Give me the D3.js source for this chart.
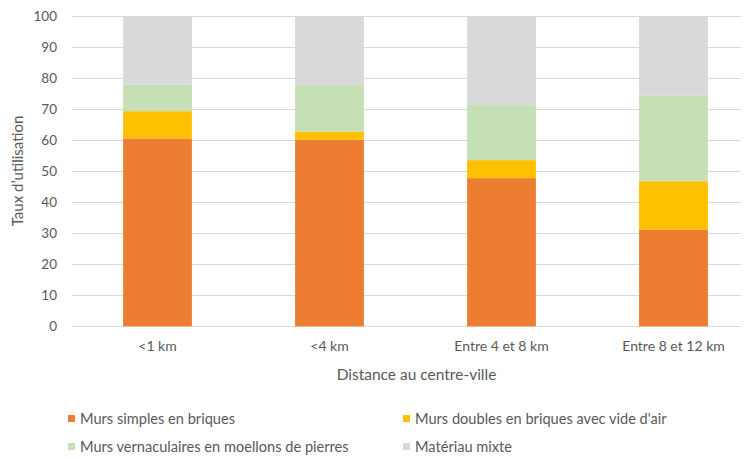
<!DOCTYPE html>
<html>
<head>
<meta charset="utf-8">
<script src="https://cdn.jsdelivr.net/npm/d3@7"></script>
<style>
  html, body { margin: 0; padding: 0; background: #fff; }
  svg { display: block; font-family: Lato, "Open Sans", sans-serif; }
</style>
</head>
<body>
<svg id="chart" width="749" height="459"></svg>
<script>
// Distance bands from the city centre
const categories = ["<1 km", "<4 km", "Entre 4 et 8 km", "Entre 8 et 12 km"];

// Share of each wall type (%) per distance band
const simplesBriques   = [60.6, 60.2, 47.8, 31.2];
const doublesBriques   = [8.8, 2.6, 5.8, 15.6];
const vernaculaires    = [8.6, 15.0, 17.8, 27.7];
const materiauMixte    = [22.0, 22.2, 28.6, 25.5];

const seriesNames = [
  "Murs simples en briques",
  "Murs doubles en briques avec vide d'air",
  "Murs vernaculaires en moellons de pierres",
  "Matériau mixte"
];
const seriesColors = ["#ED7D31", "#FFC000", "#C5E0B4", "#D9D9D9"];
const yTicks = [0, 10, 20, 30, 40, 50, 60, 70, 80, 90, 100];

const seriesValues = [simplesBriques, doublesBriques, vernaculaires, materiauMixte];
const rows = categories.map((c, i) => {
  const r = { cat: c };
  seriesNames.forEach((s, k) => { r[s] = seriesValues[k][i]; });
  return r;
});
const stacked = d3.stack().keys(seriesNames)(rows);

const svg = d3.select("#chart");
const plotLeft = 72, plotRight = 741, plotTop = 16.3, plotBottom = 326.3;

const x = d3.scaleBand()
  .domain(categories)
  .range([71.5, 759.5])
  .paddingInner(0.6)
  .paddingOuter(0.3);

const y = d3.scaleLinear().domain([0, 100]).range([plotBottom, plotTop]);

const textColor = "#595959";

// Horizontal gridlines
svg.append("g")
  .selectAll("line")
  .data(yTicks)
  .join("line")
  .attr("x1", plotLeft)
  .attr("x2", plotRight)
  .attr("y1", d => Math.round(y(d)) + 0.5)
  .attr("y2", d => Math.round(y(d)) + 0.5)
  .attr("stroke", "#D9D9D9")
  .attr("stroke-width", 1);

// Y axis tick labels
const yAxis = d3.axisLeft(y).tickValues(yTicks).tickSize(0).tickPadding(0);
svg.append("g")
  .attr("transform", `translate(57,0)`)
  .call(yAxis)
  .call(g => g.select(".domain").remove())
  .call(g => g.selectAll("text")
    .attr("fill", textColor)
    .style("font-size", "13.5px")
    .style("font-family", "Lato, 'Open Sans', sans-serif"));

// Stacked bars
svg.append("g")
  .selectAll("g")
  .data(stacked)
  .join("g")
  .attr("fill", (d, i) => seriesColors[i])
  .selectAll("rect")
  .data(d => d)
  .join("rect")
  .attr("x", d => x(d.data.cat))
  .attr("width", x.bandwidth())
  .attr("y", d => y(d[1]))
  .attr("height", d => y(d[0]) - y(d[1]));

// X axis labels
const xAxis = d3.axisBottom(x).tickSize(0).tickPadding(0);
svg.append("g")
  .attr("transform", `translate(0,${plotBottom + 15})`)
  .call(xAxis)
  .call(g => g.select(".domain").remove())
  .call(g => g.selectAll("text")
    .attr("fill", textColor)
    .style("font-size", "14px")
    .style("font-family", "Lato, 'Open Sans', sans-serif"));

// Axis titles
svg.append("text")
  .attr("x", 416.5)
  .attr("y", 380)
  .attr("text-anchor", "middle")
  .attr("fill", textColor)
  .style("font-size", "15.5px")
  .text("Distance au centre-ville");

svg.append("text")
  .attr("transform", "translate(23,171) rotate(-90)")
  .attr("text-anchor", "middle")
  .attr("fill", textColor)
  .style("font-size", "15px")
  .text("Taux d\u2019utilisation");

// Legend, two columns by two rows
const legendPos = [[68, 419], [403, 419], [68, 447], [403, 447]];
const legend = svg.append("g")
  .selectAll("g")
  .data(seriesNames)
  .join("g")
  .attr("transform", (d, i) => `translate(${legendPos[i][0]},${legendPos[i][1]})`);

legend.append("rect")
  .attr("x", 0)
  .attr("y", -4)
  .attr("width", 7)
  .attr("height", 7)
  .attr("fill", (d, i) => seriesColors[i]);

legend.append("text")
  .attr("x", 12)
  .attr("y", 0)
  .attr("dy", "0.35em")
  .attr("fill", textColor)
  .style("font-size", "14.6px")
  .text(d => d);
</script>
</body>
</html>
